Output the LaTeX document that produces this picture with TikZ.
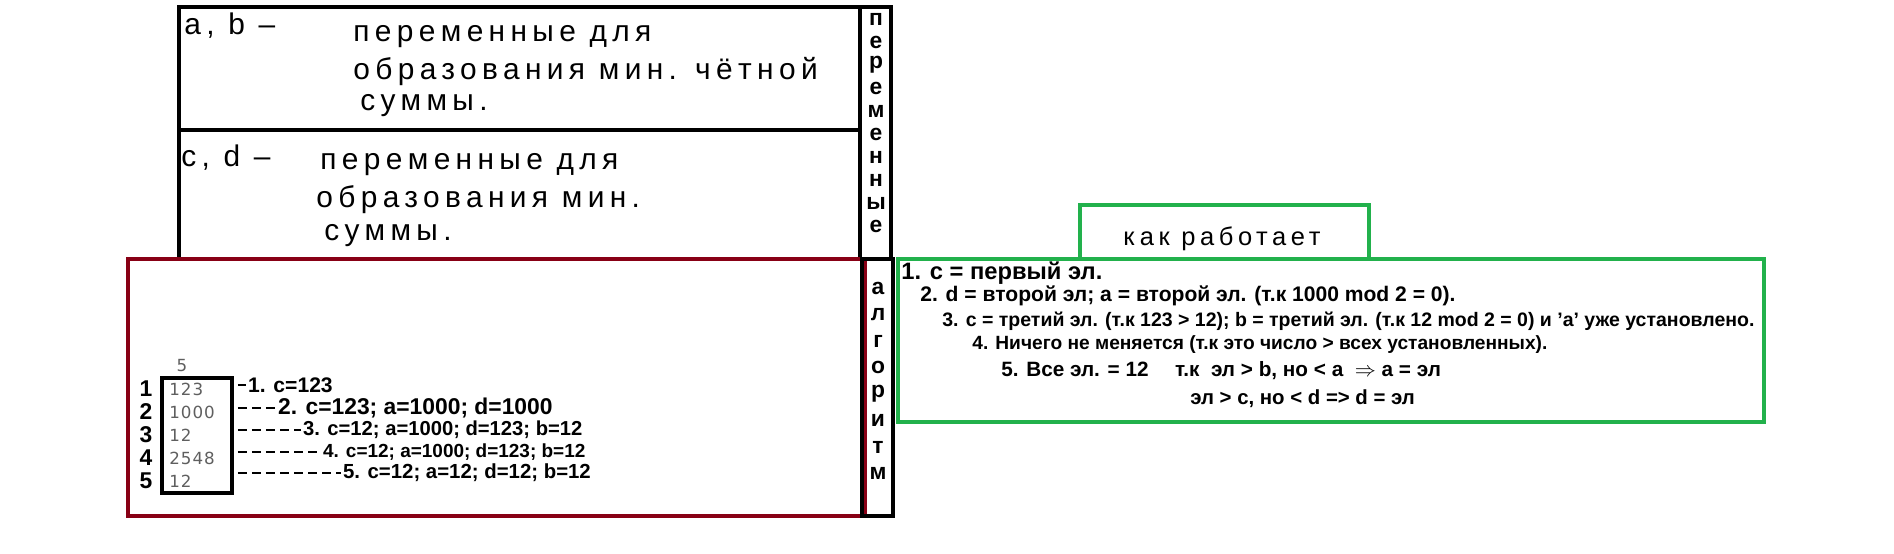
\documentclass[tikz,border=0pt]{standalone}
\usepackage{fontspec}
\setmainfont{Liberation Sans}
\newfontfamily\handfont[LetterSpace=18]{Liberation Sans}
\newfontfamily\cellfont[LetterSpace=6]{DejaVu Sans}
\definecolor{paintred}{RGB}{136,0,21}
\definecolor{paintgreen}{RGB}{34,177,76}
\definecolor{cellgray}{RGB}{95,95,95}
\tikzset{
  boxed/.style={rectangle, draw=black, line width=2.7pt, inner sep=0pt},
  hand/.style={anchor=west, inner sep=0pt, font=\handfont\fontsize{17}{20}\selectfont},
  colletter/.style={inner sep=0pt, font=\bfseries\fontsize{13}{14}\selectfont},
  cell/.style={anchor=west, inner sep=0pt, text=cellgray, font=\cellfont\fontsize{9.5}{11}\selectfont},
  rownum/.style={inner sep=0pt, font=\bfseries\fontsize{13}{14}\selectfont},
  stepline/.style={anchor=west, inner sep=1pt, font=\bfseries\fontsize{#1}{13}\selectfont},
  howline/.style={anchor=west, inner sep=0pt, font=\bfseries\fontsize{#1}{12}\selectfont},
  leader/.style={line width=1.3pt, dash pattern=on 5pt off 3pt, shorten <=2pt}
}
\begin{document}
\begin{tikzpicture}[x=0.02cm, y=-0.02cm]
  \useasboundingbox (0,0) rectangle (1894,554);

  % Variables
  \node[boxed, minimum width=13.62cm, minimum height=2.46cm] (ab) at (519.5,68.5) {};
  \node[boxed, minimum width=13.62cm, minimum height=2.58cm] (cd) at (519.5,194.5) {};
  \node[boxed, minimum width=0.62cm, minimum height=5.04cm] (varcol) at (875.5,133) {};

  \node[hand] (ab0) at (184,26) {a, b –};
  \node[hand] (ab1) at (353,37) {переменные для};
  \node[hand] (ab2) at (353,72) {образования мин. чётной};
  \node[hand] (ab3) at (360,106) {суммы.};

  \node[hand] (cd0) at (181,158) {c, d –};
  \node[hand] (cd1) at (320,165) {переменные для};
  \node[hand] (cd2) at (316,200) {образования мин.};
  \node[hand] (cd3) at (324,236) {суммы.};

  \foreach \ch [count=\i from 0] in {п,е,р,е,м,е,н,н,ы,е}
    \node[colletter] (v\i) at (876,19+23*\i) {\ch};

  % Algorithm
  \node[boxed, draw=paintred, line width=2.3pt, minimum width=14.74cm, minimum height=5.14cm] (alg) at (496.5,387.5) {};
  \node[boxed, minimum width=0.62cm, minimum height=5.14cm] (algcol) at (877.5,387.5) {};

  \foreach \ch [count=\i from 0] in {а,л,г,о,р,и,т,м}
    \node[colletter] (l\i) at (878,288+26.5*\i) {\ch};

  % Array
  \node[boxed, minimum width=1.4cm, minimum height=2.3cm] (tbl) at (197,435.5) {};
  \node[cell, anchor=center] (hd) at (182,366) {5};
  \foreach \v [count=\i] in {123,1000,12,2548,12} {
    \node[cell] (c\i) at (169,366+23*\i) {\v};
    \node[rownum] (r\i) at (146,366+23*\i) {\i};
  }

  % Steps
  \node[stepline=12] (s1) at (246,385) {1. c=123};
  \node[stepline=13] (s2) at (276,408) {2. c=123; a=1000; d=1000};
  \node[stepline=11.5] (s3) at (301,430) {3. c=12; a=1000; d=123; b=12};
  \node[stepline=10.8] (s4) at (321,452) {4. c=12; a=1000; d=123; b=12};
  \node[stepline=11.6] (s5) at (341,473) {5. c=12; a=12; d=12; b=12};
  \foreach \i in {1,...,5}
    \draw[leader] (tbl.east |- s\i.west) -- (s\i.west);

  % How it works
  \node[boxed, draw=paintgreen, line width=2.2pt, minimum width=5.78cm, minimum height=1.08cm] (hdr) at (1224.5,232) {};
  \node[boxed, draw=paintgreen, line width=2.2pt, minimum width=17.32cm, minimum height=3.26cm] (how) at (1331,340.5) {};
  \node[inner sep=0pt, font=\handfont\fontsize{14.5}{16}\selectfont] (hdrtxt) at (1222,239) {как работает};

  \node[howline=13.5] (g1) at (901,273) {1. c = первый эл.};
  \node[howline=12] (g2) at (920,296) {2. d = второй эл; a = второй эл. (т.к 1000 mod 2 = 0).};
  \node[howline=11.1] (g3) at (942,321) {3. c = третий эл. (т.к 123 > 12); b = третий эл. (т.к 12 mod 2 = 0) и 'a' уже установлено.};
  \node[howline=10.9] (g4) at (972,345) {4. Ничего не меняется (т.к это число > всех установленных).};
  \node[howline=11.8] (g5) at (1001,371) {5. Все эл. = 12 \quad т.к \ эл > b, но < a \ $\Rightarrow$ a = эл};
  \node[howline=11.6] (g6) at (1190,399) {эл > c, но < d => d = эл};
\end{tikzpicture}
\end{document}
